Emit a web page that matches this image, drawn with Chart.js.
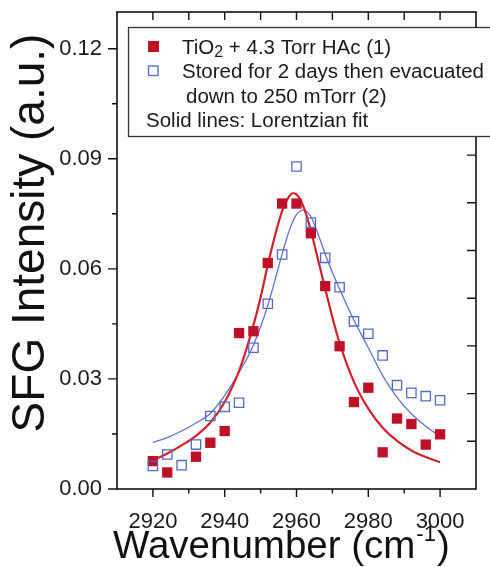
<!DOCTYPE html>
<html>
<head>
<meta charset="utf-8">
<script src="https://cdn.jsdelivr.net/npm/chart.js@4.4.1/dist/chart.umd.min.js"></script>
<style>
  html, body { margin: 0; padding: 0; background: #fff; }
  #wrap { width: 490px; height: 567px; }
</style>
</head>
<body>
<div id="wrap"><canvas id="sfg" width="490" height="567"></canvas></div>
<script>
// measured spectra, one point every 4 cm-1
const wavenumbers = [2920, 2924, 2928, 2932, 2936, 2940, 2944, 2948, 2952, 2956, 2960,
                     2964, 2968, 2972, 2976, 2980, 2984, 2988, 2992, 2996, 3000];
const hacSignal = [0.0076, 0.0045, null, 0.0088, 0.0126, 0.0158, 0.0425, 0.0430, 0.0616, 0.0778, 0.0778,
                   0.0697, 0.0553, 0.0389, 0.0237, 0.0276, 0.0100, 0.0192, 0.0177, 0.0121, 0.0149];
const storedSignal = [0.0063, 0.0094, 0.0065, 0.0121, 0.0199, 0.0224, 0.0235, 0.0385, 0.0505, 0.0639, 0.0879,
                      0.0726, 0.0630, 0.0550, 0.0457, 0.0423, 0.0364, 0.0283, 0.0262, 0.0253, 0.0242];

// Lorentzian fit curves
const hacFitX = [2920, 2924, 2928, 2932, 2936, 2940, 2944, 2946, 2948, 2950, 2952, 2954, 2956, 2958, 2959,
                 2960, 2962, 2964, 2966, 2968, 2970, 2972, 2976, 2980, 2984, 2988, 2992, 2996, 3000];
const hacFitY = [0.0078, 0.0097, 0.0119, 0.0145, 0.0181, 0.0237, 0.0322, 0.0380, 0.0446, 0.0522, 0.0610,
                 0.0690, 0.0757, 0.0798, 0.0806, 0.0803, 0.0768, 0.0704, 0.0625, 0.0546, 0.0468, 0.0398,
                 0.0292, 0.0219, 0.0167, 0.0131, 0.0105, 0.0087, 0.0073];
const storedFitX = [2920, 2924, 2928, 2932, 2936, 2940, 2944, 2948, 2952, 2956, 2958, 2960, 2962,
                    2964, 2966, 2968, 2970, 2972, 2976, 2980, 2984, 2988, 2992, 2996, 3000];
const storedFitY = [0.0127, 0.0140, 0.0158, 0.0180, 0.0206, 0.0255, 0.0318, 0.0392, 0.0500, 0.0640, 0.0705,
                    0.0748, 0.0760, 0.0742, 0.0695, 0.0640, 0.0590, 0.0545, 0.0460, 0.0385, 0.0309,
                    0.0250, 0.0205, 0.0171, 0.0143];

const xMajor = [2920, 2940, 2960, 2980, 3000];
const xMinor = [2930, 2950, 2970, 2990];
const yMajor = [0, 0.03, 0.06, 0.09, 0.12];
const yLabels = ['0.00', '0.03', '0.06', '0.09', '0.12'];
const yMinor = [0.015, 0.045, 0.075, 0.105];

const legendLines = ['TiO', '2', ' + 4.3 Torr HAc (1)', 'Stored for 2 days then evacuated',
                     'down to 250 mTorr (2)', 'Solid lines: Lorentzian fit'];

const RED = '#bf1029';
const RED_LINE = '#d3202c';
const BLUE = '#5468c8';
const BLUE_LINE = '#5f72d2';
const FONT = '"Liberation Sans", Arial, Helvetica, sans-serif';

function pairs(xs, ys) {
  const out = [];
  xs.forEach((x, i) => { if (ys[i] !== null) out.push({ x: x, y: ys[i] }); });
  return out;
}

// axis frame, tick marks and titles
const framePlugin = {
  id: 'frame',
  beforeDatasetsDraw(chart) {
    const ctx = chart.ctx;
    const a = chart.chartArea;
    const xs = chart.scales.x, ys = chart.scales.y;
    ctx.save();
    ctx.strokeStyle = '#111';
    ctx.lineWidth = 1.6;
    ctx.strokeRect(a.left, a.top, a.right - a.left, a.bottom - a.top);

    ctx.lineWidth = 1.4;
    ctx.beginPath();
    xMajor.concat(xMinor).forEach(v => {
      const px = xs.getPixelForValue(v);
      const len = xMajor.includes(v) ? 8 : 4.5;
      ctx.moveTo(px, a.bottom); ctx.lineTo(px, a.bottom + len);
      ctx.moveTo(px, a.top); ctx.lineTo(px, a.top + 8);
    });
    yMajor.concat(yMinor).forEach(v => {
      const py = ys.getPixelForValue(v);
      const len = yMajor.includes(v) ? 9 : 5;
      ctx.moveTo(a.left, py); ctx.lineTo(a.left - len, py);
    });
    // right axis is split into ten equal divisions
    for (let k = 1; k < 10; k++) {
      const py = a.bottom - k * (a.bottom - a.top) / 10;
      ctx.moveTo(a.right, py); ctx.lineTo(a.right - 9, py);
    }
    ctx.stroke();

    // y title
    ctx.fillStyle = '#111';
    ctx.font = '46px ' + FONT;
    ctx.textAlign = 'center';
    ctx.textBaseline = 'alphabetic';
    ctx.translate(44, 233);
    ctx.rotate(-Math.PI / 2);
    ctx.fillText('SFG Intensity (a.u.)', 0, 0);
    ctx.restore();

    // x title with superscript
    ctx.save();
    ctx.fillStyle = '#111';
    ctx.textAlign = 'left';
    ctx.textBaseline = 'alphabetic';
    let x = 113;
    ctx.font = '38.5px ' + FONT;
    ctx.fillText('Wavenumber (cm', x, 558);
    x += ctx.measureText('Wavenumber (cm').width;
    ctx.font = '22px ' + FONT;
    ctx.fillText('-1', x + 1, 541);
    x += ctx.measureText('-1').width + 2;
    ctx.font = '38.5px ' + FONT;
    ctx.fillText(')', x, 558);
    ctx.restore();
  },
  afterDraw(chart) {
    const ctx = chart.ctx;
    ctx.save();
    ctx.fillStyle = '#fff';
    ctx.strokeStyle = '#333';
    ctx.lineWidth = 1.3;
    ctx.fillRect(128.5, 27.5, 400, 109);
    ctx.strokeRect(128.5, 27.5, 400, 109);

    // markers
    ctx.fillStyle = RED;
    ctx.fillRect(148, 41, 11, 11);
    ctx.strokeStyle = BLUE;
    ctx.lineWidth = 1.3;
    ctx.strokeRect(148.5, 66, 9.5, 9.5);

    ctx.fillStyle = '#1a1a1a';
    ctx.textAlign = 'left';
    ctx.textBaseline = 'alphabetic';
    ctx.font = '20.5px ' + FONT;
    let x = 182;
    ctx.fillText(legendLines[0], x, 54);
    x += ctx.measureText(legendLines[0]).width;
    ctx.font = '16px ' + FONT;
    ctx.fillText(legendLines[1], x, 57);
    x += ctx.measureText(legendLines[1]).width;
    ctx.font = '20.5px ' + FONT;
    ctx.fillText(legendLines[2], x, 54);
    ctx.fillText(legendLines[3], 182, 78);
    ctx.fillText(legendLines[4], 186, 102.5);
    ctx.fillText(legendLines[5], 146, 127);
    ctx.restore();
  }
};

new Chart(document.getElementById('sfg').getContext('2d'), {
  type: 'scatter',
  data: {
    datasets: [
      {
        data: pairs(wavenumbers, storedSignal),
        pointStyle: 'rect',
        pointRadius: 6.6,
        pointBackgroundColor: 'rgba(0,0,0,0)',
        pointBorderColor: BLUE,
        pointBorderWidth: 1.3,
        showLine: false,
        order: 0
      },
      {
        data: pairs(wavenumbers, hacSignal),
        pointStyle: 'rect',
        pointRadius: 7.3,
        pointBackgroundColor: RED,
        pointBorderColor: RED,
        pointBorderWidth: 0,
        showLine: false,
        order: 1
      },
      {
        data: pairs(hacFitX, hacFitY),
        showLine: true,
        borderColor: RED_LINE,
        borderWidth: 2.2,
        pointRadius: 0,
        cubicInterpolationMode: 'monotone',
        order: 2
      },
      {
        data: pairs(storedFitX, storedFitY),
        showLine: true,
        borderColor: BLUE_LINE,
        borderWidth: 1.3,
        pointRadius: 0,
        cubicInterpolationMode: 'monotone',
        order: 3
      }
    ]
  },
  options: {
    responsive: false,
    devicePixelRatio: 1,
    animation: false,
    layout: { padding: { top: 12, right: 14, left: 0, bottom: 0 } },
    plugins: { legend: { display: false }, tooltip: { enabled: false } },
    scales: {
      x: {
        type: 'linear',
        min: 2910,
        max: 3010,
        afterFit: s => { s.height = 78; s.paddingLeft = 0; s.paddingRight = 0; },
        afterBuildTicks: s => { s.ticks = xMajor.map(v => ({ value: v })); },
        grid: { display: false, drawTicks: false },
        border: { display: false },
        ticks: {
          color: '#1a1a1a',
          font: { family: FONT, size: 22 },
          padding: 20,
          maxRotation: 0,
          autoSkip: false,
          callback: v => String(v)
        }
      },
      y: {
        type: 'linear',
        min: 0,
        max: 0.13,
        afterFit: s => { s.width = 117; s.paddingTop = 0; s.paddingBottom = 0; },
        afterBuildTicks: s => { s.ticks = yMajor.map(v => ({ value: v })); },
        grid: { display: false, drawTicks: false },
        border: { display: false },
        ticks: {
          color: '#1a1a1a',
          font: { family: FONT, size: 22 },
          padding: 15,
          autoSkip: false,
          callback: (v, i) => yLabels[i]
        }
      }
    }
  },
  plugins: [framePlugin]
});
</script>
</body>
</html>
